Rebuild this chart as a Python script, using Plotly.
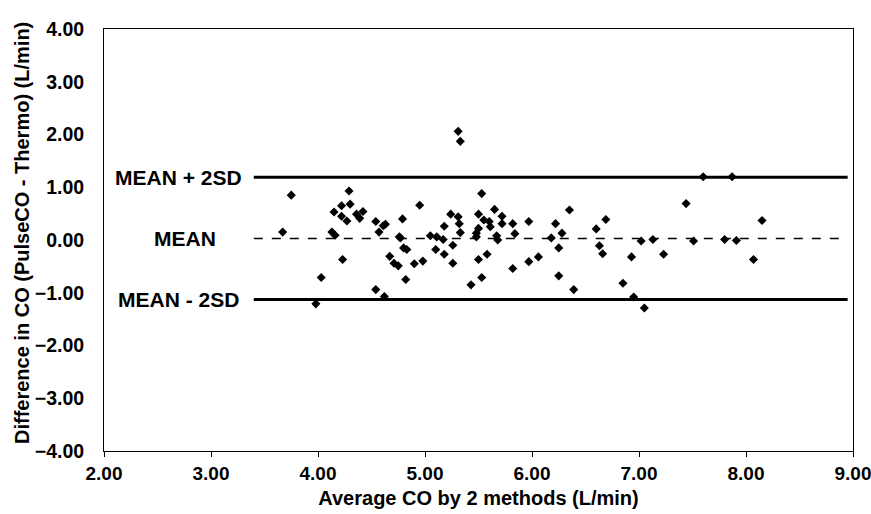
import plotly.graph_objects as go

avg_co = [3.67, 3.75, 3.98, 4.03, 4.13, 4.16, 4.15, 4.22, 4.22, 4.23, 4.27, 4.29, 4.30,
          4.36, 4.39, 4.42, 4.54, 4.54, 4.57, 4.61, 4.63, 4.62, 4.67, 4.71, 4.75, 4.76,
          4.77, 4.79, 4.80, 4.83, 4.82, 4.90, 4.95, 4.98, 5.05, 5.10, 5.11, 5.17, 5.18,
          5.18, 5.24, 5.26, 5.26, 5.31, 5.33, 5.31, 5.32, 5.33, 5.43, 5.48, 5.48, 5.50,
          5.50, 5.50, 5.53, 5.53, 5.55, 5.58, 5.60, 5.61, 5.65, 5.67, 5.68, 5.72, 5.72,
          5.82, 5.82, 5.84, 5.97, 5.97, 6.06, 6.18, 6.22, 6.25, 6.25, 6.28, 6.35, 6.39,
          6.60, 6.63, 6.66, 6.69, 6.85, 6.93, 6.95, 7.02, 7.05, 7.13, 7.23, 7.44, 7.51,
          7.60, 7.80, 7.87, 7.91, 8.07, 8.15]
diff_co = [0.15, 0.85, -1.21, -0.71, 0.15, 0.09, 0.53, 0.65, 0.45, -0.37, 0.36, 0.93, 0.68,
           0.49, 0.41, 0.54, 0.35, -0.94, 0.15, 0.27, 0.30, -1.07, -0.31, -0.44, -0.49, 0.06,
           0.04, 0.40, -0.15, -0.18, -0.75, -0.45, 0.66, -0.40, 0.08, -0.18, 0.06, 0.01, 0.26,
           -0.27, 0.49, -0.10, -0.44, 2.06, 1.87, 0.44, 0.31, 0.14, -0.85, 0.13, 0.06, 0.22,
           0.49, -0.37, 0.88, -0.71, 0.38, -0.27, 0.35, 0.25, 0.58, 0.08, 0.00, 0.45, 0.31,
           0.31, -0.54, 0.12, 0.35, -0.41, -0.32, 0.04, 0.31, -0.15, -0.68, 0.13, 0.57, -0.94,
           0.21, -0.11, -0.26, 0.39, -0.82, -0.32, -1.08, -0.02, -1.29, 0.01, -0.27, 0.69, -0.02,
           1.20, 0.01, 1.20, -0.01, -0.37, 0.37]

mean_diff = 0.03
upper_limit = 1.19
lower_limit = -1.13
line_x = [3.40, 8.95]
label_texts = ["MEAN + 2SD", "MEAN", "MEAN - 2SD"]
x_ticks = [2, 3, 4, 5, 6, 7, 8, 9]
y_ticks = [-4, -3, -2, -1, 0, 1, 2, 3, 4]
x_title = "Average CO by 2 methods (L/min)"
y_title = "Difference in CO (PulseCO - Thermo) (L/min)"

fig = go.Figure()

fig.add_trace(go.Scatter(x=line_x, y=[upper_limit, upper_limit], mode="lines",
                         line=dict(color="black", width=3), showlegend=False, hoverinfo="skip"))
fig.add_trace(go.Scatter(x=line_x, y=[mean_diff, mean_diff], mode="lines",
                         line=dict(color="black", width=1.5, dash="dash"), showlegend=False, hoverinfo="skip"))
fig.add_trace(go.Scatter(x=line_x, y=[lower_limit, lower_limit], mode="lines",
                         line=dict(color="black", width=3), showlegend=False, hoverinfo="skip"))

fig.add_trace(go.Scatter(x=avg_co, y=diff_co, mode="markers",
                         marker=dict(symbol="diamond", size=7, color="black"),
                         showlegend=False))

FONT = "Liberation Sans, Arial, sans-serif"
label_font = dict(family=FONT, size=21, color="black", weight="bold")
fig.add_annotation(x=3.31, y=upper_limit, text=label_texts[0], showarrow=False,
                   xanchor="right", yanchor="middle", font=label_font)
fig.add_annotation(x=2.76, y=mean_diff, text=label_texts[1], showarrow=False,
                   xanchor="center", yanchor="middle", font=label_font)
fig.add_annotation(x=3.28, y=lower_limit, text=label_texts[2], showarrow=False,
                   xanchor="right", yanchor="middle", font=label_font)

x_tick_font = dict(family=FONT, size=19, color="black", weight="bold")
y_tick_font = dict(family=FONT, size=19.5, color="black", weight="bold")
title_font = dict(family=FONT, size=20, color="black", weight="bold")

# y-axis title placed to the left of the tick labels
fig.add_annotation(x=0, y=0.5, xref="paper", yref="paper", text=y_title, textangle=-90,
                   showarrow=False, xanchor="center", yanchor="middle",
                   xshift=-82, yshift=7, font=title_font)

fig.update_xaxes(range=[2, 9], tickvals=x_ticks, tickformat=".2f", ticks="outside", ticklen=5,
                 tickcolor="black", showline=True, linecolor="black", linewidth=1, mirror=True,
                 showgrid=False, zeroline=False, tickfont=x_tick_font, automargin=False,
                 ticklabeloverflow="allow",
                 title=dict(text=x_title, font=title_font, standoff=8))
# main y axis: labels pushed away from the axis with long transparent ticks
fig.update_yaxes(range=[-4, 4], tickvals=y_ticks, tickformat=".2f",
                 ticks="outside", ticklen=15, tickcolor="rgba(0,0,0,0)",
                 showline=True, linecolor="black", linewidth=1, mirror=True,
                 showgrid=False, zeroline=False, tickfont=y_tick_font, automargin=False)
# overlay y axis that only draws the short visible tick marks
fig.update_layout(yaxis2=dict(overlaying="y", anchor="x", side="left", range=[-4, 4],
                              tickvals=y_ticks, ticks="outside", ticklen=6, tickcolor="black",
                              showticklabels=False, showgrid=False, zeroline=False,
                              showline=False, automargin=False))

fig.update_layout(width=871, height=514, paper_bgcolor="white", plot_bgcolor="white",
                  margin=dict(l=104, r=18, t=29, b=63))

# remove the default 8px page margin so the figure fills the window exactly
fig.write_html("out.html", config={"displayModeBar": False},
               post_script="document.body.style.margin='0';document.body.style.overflow='hidden';")
